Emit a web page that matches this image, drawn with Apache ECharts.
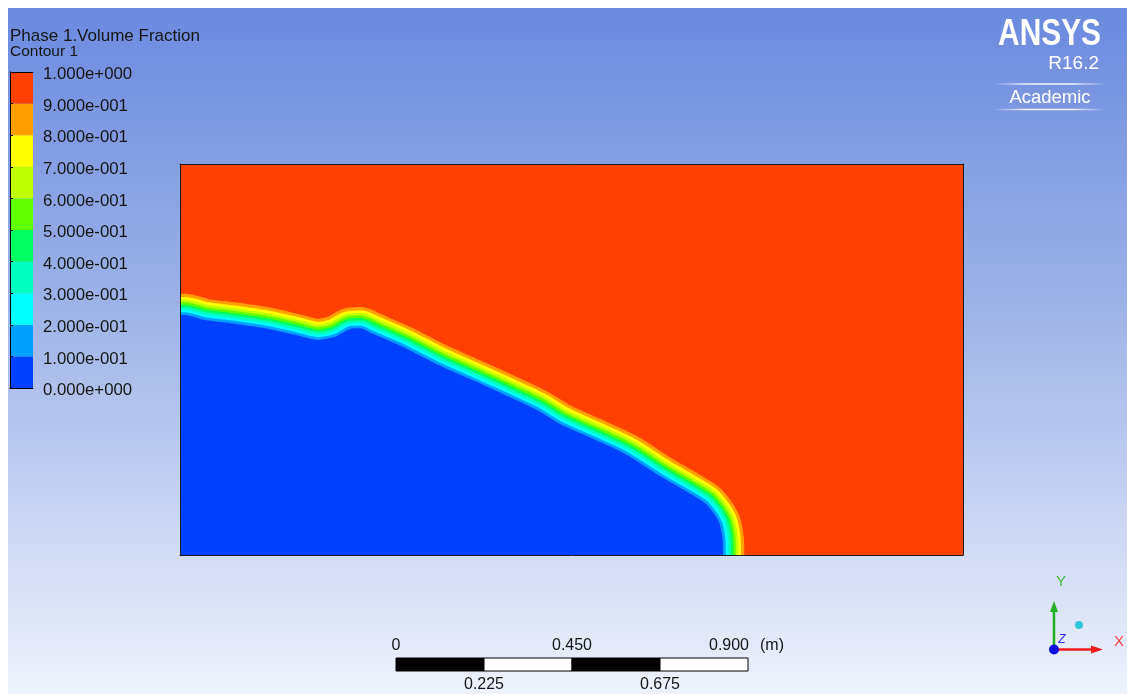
<!DOCTYPE html>
<html>
<head>
<meta charset="utf-8">
<script src="https://cdn.jsdelivr.net/npm/echarts@6/dist/echarts.min.js"></script>
<style>
  html, body { margin: 0; padding: 0; background: #ffffff; }
  #chart { width: 1127px; height: 694px; }
</style>
</head>
<body>
<div id="chart"></div>
<script>
// ---------------- data ----------------
// lower edge of the transition band (edge of the phase 0 region), metres
const interfaceX = [0.000, 0.012, 0.064, 0.128, 0.217, 0.294, 0.352, 0.396, 0.434, 0.460, 0.490,
                    0.570, 0.656, 0.741, 0.825, 0.912, 0.971, 1.055, 1.142, 1.226, 1.310,
                    1.341, 1.361, 1.377, 1.384, 1.387, 1.387];
const interfaceY = [0.614, 0.614, 0.601, 0.593, 0.580, 0.563, 0.550, 0.558, 0.578, 0.580, 0.567,
                    0.532, 0.488, 0.450, 0.412, 0.371, 0.335, 0.297, 0.256, 0.202, 0.153,
                    0.133, 0.110, 0.084, 0.056, 0.026, 0.000];
const domainX = [0, 2];
const domainY = [0, 1];
const levels = [0, 0.1, 0.2, 0.3, 0.4, 0.5, 0.6, 0.7, 0.8, 0.9, 1.0];
const bandColors = ['#0040FF', '#00A0FF', '#00FFFF', '#00FFC0', '#00FF60',
                    '#60FF00', '#C0FF00', '#FFFF00', '#FFA000', '#FF4000'];
const scaleTicks = [0, 0.225, 0.45, 0.675, 0.9];
const scaleTopLabels = ['0', '', '0.450', '', '0.900'];
const scaleBottomLabels = ['', '0.225', '', '0.675', ''];
const titleText = 'Phase 1.Volume Fraction';
const subtitleText = 'Contour 1';

// ---------------- helpers ----------------
function ansysExp(v) {
  if (Math.abs(v) < 1e-12) return '0.000e+000';
  let e = Math.floor(Math.log10(Math.abs(v)) + 1e-9);
  let m = v / Math.pow(10, e);
  if (m.toFixed(3) === '10.000') { m = 1; e += 1; }
  return m.toFixed(3) + 'e' + (e < 0 ? '-' : '+') + String(Math.abs(e)).padStart(3, '0');
}
const FONT = "'Liberation Sans', Arial, sans-serif";
const TXT = '#151515';

const ifaceData = interfaceX.map((x, i) => [x, interfaceY[i]]);

// band thickness (px, perpendicular) for skyblue..orange layers
const bandPx = [2.8, 2.5, 2.5, 2.5, 2.5, 2.5, 2.7, 3.2];
const series = [];
for (let k = 8; k >= 1; k--) {
  let cum = 0;
  for (let j = 0; j < k; j++) cum += bandPx[j];
  series.push({
    type: 'line', xAxisIndex: 0, yAxisIndex: 0, data: ifaceData,
    symbol: 'none', smooth: 0.25, silent: true, animation: false, clip: true, z: 2,
    lineStyle: { color: bandColors[k], width: 2 * cum, cap: 'butt', join: 'round' }
  });
}
series.push({
  type: 'line', xAxisIndex: 0, yAxisIndex: 0, data: ifaceData,
  symbol: 'none', smooth: 0.25, silent: true, animation: false, clip: true, z: 3,
  lineStyle: { width: 0, color: bandColors[0] },
  areaStyle: { color: bandColors[0], opacity: 1 }
});

// colour bar
const legendData = [];
for (let i = 0; i < levels.length - 1; i++) legendData.push([levels[i], levels[i + 1], i]);
series.push({
  type: 'custom', xAxisIndex: 2, yAxisIndex: 2, data: legendData, silent: true, animation: false,
  renderItem: function (params, api) {
    const a = api.coord([0, api.value(0)]);
    const b = api.coord([1, api.value(1)]);
    return { type: 'rect', shape: { x: a[0], y: b[1], width: b[0] - a[0], height: a[1] - b[1] },
             style: { fill: bandColors[api.value(2)] } };
  }
});

// scale bar
const scaleData = [];
for (let i = 0; i < scaleTicks.length - 1; i++) scaleData.push([scaleTicks[i], scaleTicks[i + 1], i % 2]);
series.push({
  type: 'custom', xAxisIndex: 4, yAxisIndex: 4, data: scaleData, silent: true, animation: false,
  renderItem: function (params, api) {
    const a = api.coord([api.value(0), 0]);
    const b = api.coord([api.value(1), 1]);
    return { type: 'rect', shape: { x: a[0], y: b[1], width: b[0] - a[0], height: a[1] - b[1] },
             style: { fill: api.value(2) === 0 ? '#000000' : '#ffffff', stroke: '#000000', lineWidth: 1 } };
  }
});

const hidden = { show: true, axisLabel: { show: false }, axisTick: { show: false }, splitLine: { show: false } };
function frameAxis(gridIndex, pos, mn, mx, color) {
  return Object.assign({}, hidden, {
    gridIndex: gridIndex, type: 'value', position: pos, min: mn, max: mx, z: 10,
    axisLine: { show: true, onZero: false, lineStyle: { color: color, width: 1 } }
  });
}

const chart = echarts.init(document.getElementById('chart'), null, { renderer: 'canvas' });
const option = {
  animation: false,
  backgroundColor: '#ffffff',
  grid: [
    { left: 180, top: 164, width: 783, height: 391, show: true, backgroundColor: bandColors[9], borderWidth: 0 },
    { left: 10, top: 72, width: 23, height: 316, show: false },
    { left: 396, top: 658, width: 352, height: 13, show: false },
    { left: 10, top: 74.5, width: 23, height: 316, show: false }
  ],
  xAxis: [
    frameAxis(0, 'bottom', domainX[0], domainX[1], '#1e1e1e'),
    frameAxis(0, 'top', domainX[0], domainX[1], '#1e1e1e'),
    frameAxis(1, 'bottom', 0, 1, '#000'),
    frameAxis(1, 'top', 0, 1, '#000'),
    {
      gridIndex: 2, type: 'value', position: 'top', min: scaleTicks[0], max: scaleTicks[scaleTicks.length - 1],
      interval: 0.225, axisLine: { show: false }, axisTick: { show: false }, splitLine: { show: false },
      axisLabel: {
        show: true, margin: 4, color: TXT, fontFamily: FONT, fontSize: 16, showMinLabel: true, showMaxLabel: true,
        formatter: function (v) {
          const i = scaleTicks.findIndex(t => Math.abs(t - v) < 1e-6);
          if (i === scaleTicks.length - 1) return '{r|' + scaleTopLabels[i] + '}';
          return i >= 0 ? scaleTopLabels[i] : '';
        },
        rich: { r: { padding: [0, 38, 0, 0], fontSize: 16, fontFamily: FONT, color: TXT } }
      }
    },
    {
      gridIndex: 2, type: 'value', position: 'bottom', min: scaleTicks[0], max: scaleTicks[scaleTicks.length - 1],
      interval: 0.225, axisLine: { show: false }, axisTick: { show: false }, splitLine: { show: false },
      axisLabel: {
        show: true, margin: 6, color: TXT, fontFamily: FONT, fontSize: 16, showMinLabel: true, showMaxLabel: true,
        formatter: function (v) {
          const i = scaleTicks.findIndex(t => Math.abs(t - v) < 1e-6);
          return i >= 0 ? scaleBottomLabels[i] : '';
        }
      }
    },
    { gridIndex: 3, type: 'value', min: 0, max: 1, show: false }
  ],
  yAxis: [
    frameAxis(0, 'left', domainY[0], domainY[1], '#1e1e1e'),
    frameAxis(0, 'right', domainY[0], domainY[1], '#1e1e1e'),
    frameAxis(1, 'left', 0, 1, '#000'),
    {
      gridIndex: 1, type: 'value', position: 'right', min: levels[0], max: levels[levels.length - 1],
      interval: 0.1, z: 10,
      axisLine: { show: true, lineStyle: { color: '#000', width: 1 } },
      axisTick: { show: true, length: 3, inside: false, lineStyle: { color: '#000' } },
      splitLine: { show: false },
      axisLabel: { show: false }
    },
    { gridIndex: 2, type: 'value', min: 0, max: 1, show: false },
    {
      gridIndex: 3, type: 'value', position: 'right', min: levels[0], max: levels[levels.length - 1],
      interval: 0.1, z: 10,
      axisLine: { show: false }, axisTick: { show: false }, splitLine: { show: false },
      axisLabel: { show: true, margin: 10, color: TXT, fontFamily: FONT, fontSize: 16.8,
                   showMinLabel: true, showMaxLabel: true, formatter: ansysExp }
    }
  ],
  series: series,
  graphic: {
    elements: [
      { type: 'rect', z: -100, silent: true, shape: { x: 8, y: 8, width: 1119, height: 686 },
        style: { fill: new echarts.graphic.LinearGradient(0, 0, 0, 1, [
          { offset: 0, color: '#6a8ade' }, { offset: 0.45, color: '#a0b4e8' }, { offset: 1, color: '#eef2fb' }]) } },
      { type: 'text', x: 10, y: 36.5, silent: true,
        style: { text: titleText, fill: TXT, font: '17px ' + FONT, align: 'left', verticalAlign: 'middle' } },
      { type: 'text', x: 10, y: 52, silent: true,
        style: { text: subtitleText, fill: TXT, font: '15.5px ' + FONT, align: 'left', verticalAlign: 'middle' } },
      // logo
      { type: 'text', x: 1101, y: 35, scaleX: 0.83, silent: true,
        style: { text: 'ANSYS', fill: '#ffffff', font: 'bold 36px ' + FONT, align: 'right', verticalAlign: 'middle' } },
      { type: 'text', x: 1099, y: 64, silent: true,
        style: { text: 'R16.2', fill: '#ffffff', font: '19px ' + FONT, align: 'right', verticalAlign: 'middle' } },
      { type: 'text', x: 1050, y: 98, silent: true,
        style: { text: 'Academic', fill: '#ffffff', font: '18.5px ' + FONT, align: 'center', verticalAlign: 'middle' } },
      { type: 'line', silent: true, shape: { x1: 995, y1: 84, x2: 1104, y2: 84 },
        style: { lineWidth: 1.5, stroke: new echarts.graphic.LinearGradient(0, 0, 1, 0, [
          { offset: 0, color: 'rgba(255,255,255,0)' }, { offset: 0.3, color: 'rgba(255,255,255,0.9)' },
          { offset: 0.7, color: 'rgba(255,255,255,0.9)' }, { offset: 1, color: 'rgba(255,255,255,0)' }]) } },
      { type: 'line', silent: true, shape: { x1: 995, y1: 109.5, x2: 1104, y2: 109.5 },
        style: { lineWidth: 1.5, stroke: new echarts.graphic.LinearGradient(0, 0, 1, 0, [
          { offset: 0, color: 'rgba(255,255,255,0)' }, { offset: 0.3, color: 'rgba(255,255,255,0.9)' },
          { offset: 0.7, color: 'rgba(255,255,255,0.9)' }, { offset: 1, color: 'rgba(255,255,255,0)' }]) } },
      // scale unit
      { type: 'text', x: 760, y: 646, silent: true,
        style: { text: '(m)', fill: TXT, font: '16px ' + FONT, align: 'left', verticalAlign: 'middle' } },
      // axis triad
      { type: 'line', silent: true, shape: { x1: 1054, y1: 650, x2: 1054, y2: 610 },
        style: { stroke: '#22b022', lineWidth: 2.5 } },
      { type: 'polygon', silent: true, shape: { points: [[1050, 612], [1058, 612], [1054, 601]] },
        style: { fill: '#22b022' } },
      { type: 'line', silent: true, shape: { x1: 1054, y1: 649.5, x2: 1093, y2: 649.5 },
        style: { stroke: '#ee1c1c', lineWidth: 2.5 } },
      { type: 'polygon', silent: true, shape: { points: [[1091, 645.5], [1091, 653.5], [1103, 649.5]] },
        style: { fill: '#ee1c1c' } },
      { type: 'circle', silent: true, shape: { cx: 1054, cy: 649.5, r: 5 },
        style: { fill: '#1010e0' } },
      { type: 'circle', silent: true, shape: { cx: 1079, cy: 625, r: 4 },
        style: { fill: '#30c8d8' } },
      { type: 'text', x: 1061, y: 582, silent: true,
        style: { text: 'Y', fill: '#3cbc3c', font: '15px ' + FONT, align: 'center', verticalAlign: 'middle' } },
      { type: 'text', x: 1119, y: 642, silent: true,
        style: { text: 'X', fill: '#ff4040', font: '15px ' + FONT, align: 'center', verticalAlign: 'middle' } },
      { type: 'text', x: 1062, y: 640, silent: true,
        style: { text: 'Z', fill: '#3030ff', font: 'italic 12px ' + FONT, align: 'center', verticalAlign: 'middle' } }
    ]
  }
};
chart.setOption(option);
</script>
</body>
</html>
